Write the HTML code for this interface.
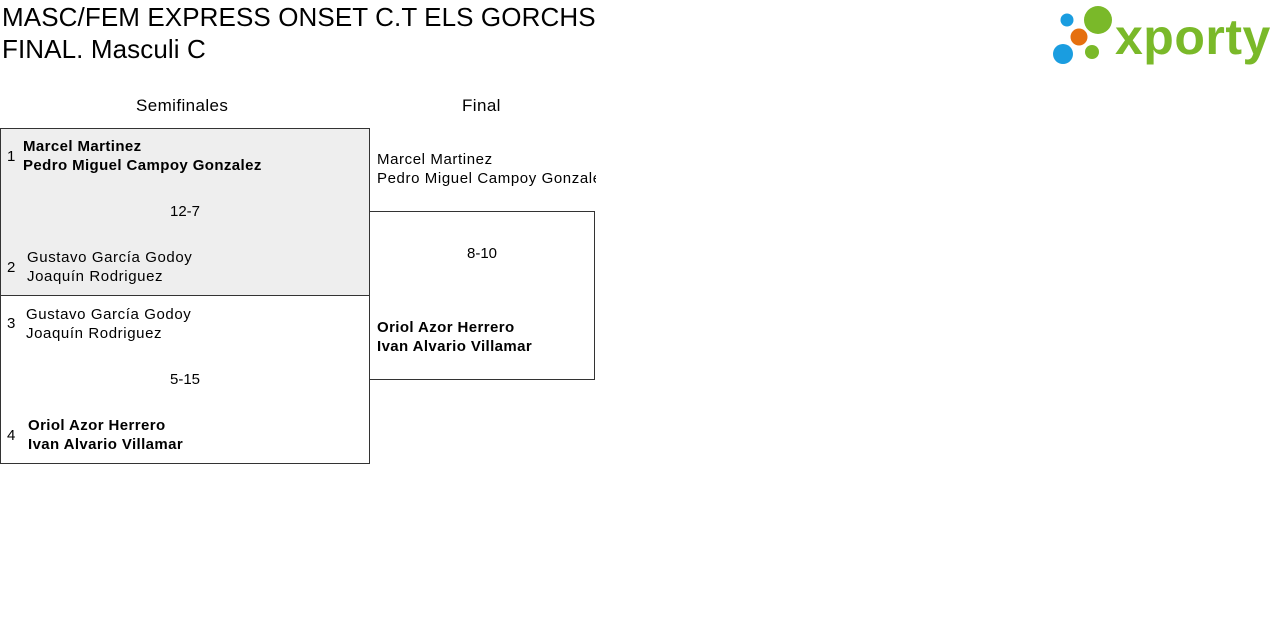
<!DOCTYPE html>
<html><head><meta charset="utf-8"><style>
body{margin:0;width:1280px;height:628px;background:#fff;font-family:"Liberation Sans",sans-serif;color:#000;position:relative;overflow:hidden}
.a{position:absolute;white-space:nowrap}
.t{font-size:26px;left:2px;letter-spacing:0.1px}
.box{position:absolute;border:1px solid #333;box-sizing:border-box}
.n{font-size:15px;line-height:19px;letter-spacing:0.6px}
.b{font-weight:bold;letter-spacing:0.4px}
.s{font-size:15px}
</style></head><body>
<div class="a t" style="top:2px">MASC/FEM EXPRESS ONSET C.T ELS GORCHS</div>
<div class="a t" style="top:34px">FINAL. Masculi C</div>
<svg class="a" style="left:1050px;top:4px" width="228" height="62">
<circle cx="17" cy="16" r="6.5" fill="#1a9de0"/>
<circle cx="48" cy="16" r="14" fill="#7ab929"/>
<circle cx="29" cy="33" r="8.5" fill="#e5700f"/>
<circle cx="13" cy="50" r="10" fill="#1a9de0"/>
<circle cx="42" cy="48" r="7" fill="#7ab929"/>
<text x="65" y="50" font-family="Liberation Sans" font-weight="bold" font-size="50" fill="#7ab929" letter-spacing="0.5">xporty</text>
</svg>
<div class="a s" style="left:136px;top:96px;font-size:17px;letter-spacing:0.4px">Semifinales</div>
<div class="a s" style="left:462px;top:96px;font-size:17px;letter-spacing:0.4px">Final</div>
<div class="box" style="left:0;top:128px;width:370px;height:168px;background:#eee"></div>
<div class="box" style="left:0;top:295px;width:370px;height:169px"></div>
<div class="box" style="left:369px;top:211px;width:226px;height:169px"></div>
<div class="a s" style="left:7px;top:148px">1</div>
<div class="a n b" style="left:23px;top:137px">Marcel Martinez<br>Pedro Miguel Campoy Gonzalez</div>
<div class="a s" style="left:170px;top:203px">12-7</div>
<div class="a s" style="left:7px;top:259px">2</div>
<div class="a n" style="left:27px;top:248px">Gustavo García Godoy<br>Joaquín Rodriguez</div>
<div class="a s" style="left:7px;top:315px">3</div>
<div class="a n" style="left:26px;top:305px">Gustavo García Godoy<br>Joaquín Rodriguez</div>
<div class="a s" style="left:170px;top:371px">5-15</div>
<div class="a s" style="left:7px;top:427px">4</div>
<div class="a n b" style="left:28px;top:416px">Oriol Azor Herrero<br>Ivan Alvario Villamar</div>
<div class="a n" style="left:377px;top:150px;width:219px;overflow:hidden">Marcel Martinez<br>Pedro Miguel Campoy Gonzalez</div>
<div class="a s" style="left:467px;top:245px">8-10</div>
<div class="a n b" style="left:377px;top:318px">Oriol Azor Herrero<br>Ivan Alvario Villamar</div>
</body></html>
